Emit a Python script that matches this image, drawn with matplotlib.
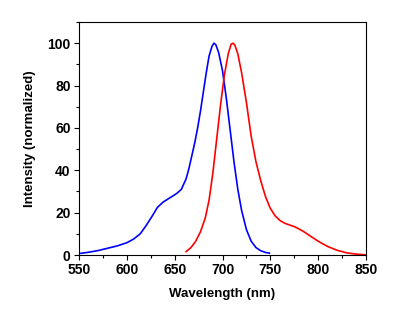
import matplotlib
matplotlib.use('Agg')
import matplotlib.pyplot as plt
from matplotlib.ticker import MultipleLocator

plt.rcParams['font.family'] = ['Liberation Sans', 'DejaVu Sans']
plt.rcParams['font.weight'] = 'bold'

# blue curve (excitation)
blue_wl = [552, 560, 570, 580, 590, 600, 607, 614, 620, 626, 632, 638, 645, 652, 657,
           662, 665, 668, 671, 674, 677, 680, 683, 686, 689, 691, 693, 696, 700, 704,
           708, 712, 716, 720, 725, 730, 735, 740, 745, 749]
blue_int = [0.8, 1.3, 2.1, 3.2, 4.3, 5.8, 7.5, 10, 13.8, 18, 22.5, 25, 27, 29, 31,
            36, 41, 47, 53, 60, 68, 77, 86, 94, 98.5, 100, 99.3, 95.5, 87, 74,
            59, 44, 31, 21, 12, 6.5, 3.5, 2, 1.2, 0.9]

# red curve (emission)
red_wl = [662, 667, 672, 677, 682, 686, 690, 694, 698, 702, 706, 709, 711, 713, 716,
          720, 725, 730, 735, 740, 745, 750, 755, 760, 765, 770, 775, 780, 785, 790,
          800, 810, 820, 830, 840, 850]
red_int = [1.6, 3.5, 6.5, 11, 17.5, 26, 39, 55, 71, 85, 95, 99.5, 100, 99, 95,
           86, 72, 56, 44, 35, 27.5, 22, 18.5, 16.3, 15, 14.2, 13.4, 12.3, 11, 9.5,
           6.5, 4, 2.2, 1, 0.4, 0.1]

fig = plt.figure(figsize=(4, 3.21), dpi=100)
ax = fig.add_axes([0.1975, 0.2056, 0.7175, 0.7259])

ax.plot(blue_wl, blue_int, color='#0000ff', lw=1.2)
ax.plot(red_wl, red_int, color='#ff0000', lw=1.2)

ax.set_xlim(550, 850)
ax.set_ylim(0, 110)
ax.xaxis.set_major_locator(MultipleLocator(50))
ax.xaxis.set_minor_locator(MultipleLocator(25))
ax.yaxis.set_major_locator(MultipleLocator(20))
ax.yaxis.set_minor_locator(MultipleLocator(10))
ax.tick_params(which='both', direction='out', top=False, right=False, labelsize=10)
ax.tick_params(which='major', length=3.5, width=0.8, pad=2.5)
ax.tick_params(which='minor', length=2, width=0.8)
for s in ax.spines.values():
    s.set_linewidth(0.8)

ax.set_xlabel('Wavelength (nm)', fontsize=9.5, fontweight='bold', labelpad=8)
ax.set_ylabel('Intensity (normalized)', fontsize=9.5, fontweight='bold', labelpad=8)

fig.savefig('out.png', dpi=100)
